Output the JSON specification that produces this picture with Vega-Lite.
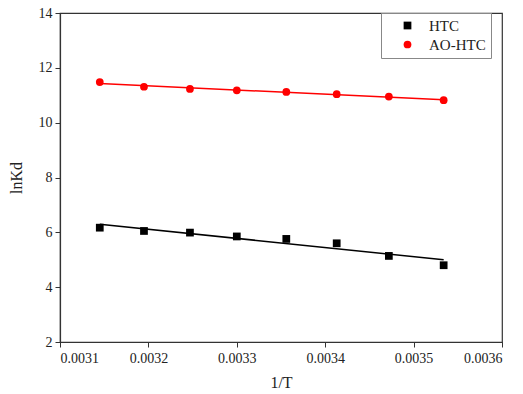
{
  "$schema": "https://vega.github.io/schema/vega-lite/v6.json",
  "width": 442,
  "height": 329,
  "autosize": {"type": "none"},
  "padding": {"left": 60, "top": 13, "right": 21, "bottom": 52},
  "background": "white",
  "config": {
    "font": "Liberation Serif",
    "view": {"stroke": "#333333", "strokeWidth": 1.2},
    "axis": {
      "grid": false,
      "domainColor": "#333333",
      "domainWidth": 1.2,
      "tickColor": "#333333",
      "tickSize": 5
    }
  },
  "data": {
    "values": [
      {"x": 0.003145, "y": 6.17, "s": "HTC"},
      {"x": 0.003195, "y": 6.05, "s": "HTC"},
      {"x": 0.003247, "y": 5.99, "s": "HTC"},
      {"x": 0.0033, "y": 5.85, "s": "HTC"},
      {"x": 0.003356, "y": 5.76, "s": "HTC"},
      {"x": 0.003413, "y": 5.6, "s": "HTC"},
      {"x": 0.003472, "y": 5.14, "s": "HTC"},
      {"x": 0.003534, "y": 4.8, "s": "HTC"},
      {"x": 0.003145, "y": 11.48, "s": "AO-HTC"},
      {"x": 0.003195, "y": 11.31, "s": "AO-HTC"},
      {"x": 0.003247, "y": 11.23, "s": "AO-HTC"},
      {"x": 0.0033, "y": 11.18, "s": "AO-HTC"},
      {"x": 0.003356, "y": 11.12, "s": "AO-HTC"},
      {"x": 0.003413, "y": 11.04, "s": "AO-HTC"},
      {"x": 0.003472, "y": 10.95, "s": "AO-HTC"},
      {"x": 0.003534, "y": 10.82, "s": "AO-HTC"}
    ]
  },
  "layer": [
    {
      "transform": [
        {"filter": "datum.s === 'HTC'"},
        {"regression": "y", "on": "x"}
      ],
      "mark": {"type": "line", "color": "black", "strokeWidth": 1.5},
      "encoding": {
        "x": {"field": "x", "type": "quantitative"},
        "y": {"field": "y", "type": "quantitative"}
      }
    },
    {
      "transform": [
        {"filter": "datum.s === 'AO-HTC'"},
        {"regression": "y", "on": "x"}
      ],
      "mark": {"type": "line", "color": "#ff0000", "strokeWidth": 1.5},
      "encoding": {
        "x": {"field": "x", "type": "quantitative"},
        "y": {"field": "y", "type": "quantitative"}
      }
    },
    {
      "mark": {"type": "point", "filled": true, "opacity": 1},
      "encoding": {
        "x": {
          "field": "x",
          "type": "quantitative",
          "scale": {"domain": [0.0031, 0.0036], "nice": false, "zero": false},
          "axis": {
            "values": [0.0031, 0.0032, 0.0033, 0.0034, 0.0035, 0.0036],
            "format": ".4f",
            "title": "1/T",
            "titlePadding": 9,
            "labelPadding": 4,
            "labelFont": "Liberation Serif",
            "labelFontSize": 14,
            "labelColor": "#222222",
            "titleFont": "Liberation Serif",
            "titleFontSize": 16,
            "titleFontWeight": "normal",
            "titleColor": "#222222"
          }
        },
        "y": {
          "field": "y",
          "type": "quantitative",
          "scale": {"domain": [2, 14], "nice": false, "zero": false},
          "axis": {
            "values": [2, 4, 6, 8, 10, 12, 14],
            "title": "lnKd",
            "titlePadding": 14,
            "labelPadding": 3,
            "labelFont": "Liberation Serif",
            "labelFontSize": 14,
            "labelColor": "#222222",
            "titleFont": "Liberation Serif",
            "titleFontSize": 16,
            "titleFontWeight": "normal",
            "titleColor": "#222222"
          }
        },
        "color": {
          "field": "s",
          "type": "nominal",
          "scale": {"domain": ["HTC", "AO-HTC"], "range": ["#000000", "#ff0000"]},
          "legend": {
            "title": null,
            "orient": "none",
            "legendX": 321,
            "legendY": 0,
            "strokeColor": "#888888",
            "fillColor": "white",
            "padding": 5,
            "labelFont": "Liberation Serif",
            "labelFontSize": 15,
            "labelColor": "#222222",
            "symbolSize": 60,
            "labelOffset": 14,
            "rowPadding": 3,
            "symbolOffset": 14
          }
        },
        "shape": {
          "field": "s",
          "type": "nominal",
          "scale": {"domain": ["HTC", "AO-HTC"], "range": ["square", "circle"]}
        },
        "size": {"value": 60}
      }
    }
  ]
}
